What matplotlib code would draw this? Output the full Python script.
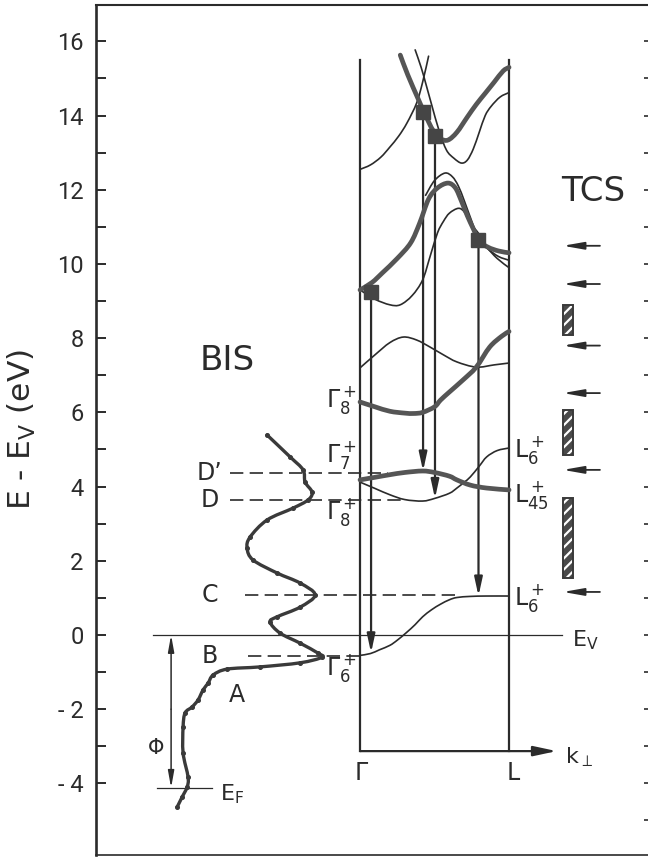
import matplotlib
matplotlib.use("Agg")
import matplotlib.pyplot as plt
from matplotlib import font_manager
from matplotlib.path import Path
from matplotlib.patches import PathPatch
from matplotlib.ticker import FixedLocator, FuncFormatter, NullFormatter

# ---------------------------------------------------------------------------
# Fonts / style
# ---------------------------------------------------------------------------
_installed = {f.name for f in font_manager.fontManager.ttflist}
TICK_FONT = "Liberation Sans Narrow" if "Liberation Sans Narrow" in _installed else "Roboto"

plt.rcParams["font.family"] = ["DejaVu Sans"]
plt.rcParams["mathtext.fontset"] = "dejavusans"
plt.rcParams["mathtext.default"] = "regular"
plt.rcParams["hatch.linewidth"] = 1.6

INK = "#2b2b2b"
THICK = "#555555"

# ---------------------------------------------------------------------------
# BIS spectrum: energy above E_V (eV) and intensity (arb. units)
# ---------------------------------------------------------------------------
bis_energy = [5.39, 4.80, 4.45, 4.12, 3.85, 3.64, 3.42, 3.10, 2.64, 2.34, 2.02,
              1.67, 1.40, 1.08, 0.75, 0.49, 0.35, 0.05, -0.22, -0.49, -0.60,
              -0.75, -0.86, -0.92, -1.08, -1.30, -1.48, -1.75, -1.94, -2.10,
              -2.48, -3.18, -3.83, -4.10, -4.37, -4.64]
bis_counts = [117, 140, 153, 155, 162, 158, 143, 117, 100, 97, 103,
              127, 150, 165, 150, 127, 120, 130, 150, 168, 172,
              150, 110, 77, 63, 58, 53, 48, 42, 35,
              33, 33, 38, 37, 32, 27]

# BIS peak labels and their energies (eV)
peak_labels = ["D\u2019", "D", "C", "B"]
peak_energy = [4.37, 3.64, 1.08, -0.57]

# ---------------------------------------------------------------------------
# Band structure along Gamma-L  (k in units of |Gamma L|, E in eV)
# ---------------------------------------------------------------------------
k_g6 = [0, 0.07, 0.13, 0.2, 0.25, 0.31, 0.37, 0.42, 0.48, 0.54, 0.6, 0.65, 0.74, 0.85, 1.0]
e_g6 = [-0.55, -0.5, -0.40, -0.28, -0.14, 0.06, 0.28, 0.49, 0.68, 0.83, 0.95, 1.01, 1.04, 1.05, 1.05]

k_g7 = [0, 0.1, 0.2, 0.3, 0.42, 0.5, 0.6, 0.65, 0.74, 0.85, 1.0]
e_g7 = [4.18, 4.25, 4.32, 4.38, 4.42, 4.38, 4.28, 4.18, 4.04, 3.96, 3.91]

k_g8 = [0, 0.1, 0.2, 0.3, 0.42, 0.5, 0.6, 0.65, 0.7, 0.74, 0.8, 0.85, 0.92, 1.0]
e_g8 = [4.12, 3.95, 3.78, 3.65, 3.61, 3.68, 3.82, 3.96, 4.12, 4.26, 4.55, 4.8, 4.97, 5.04]

k_g8u = [0, 0.1, 0.2, 0.3, 0.36, 0.42, 0.5, 0.54, 0.6, 0.69, 0.78, 0.87, 0.95, 1.0]
e_g8u = [6.28, 6.15, 6.03, 5.98, 5.97, 6.0, 6.15, 6.33, 6.55, 6.87, 7.22, 7.76, 8.05, 8.18]

k_b5 = [0, 0.1, 0.2, 0.29, 0.38, 0.47, 0.56, 0.65, 0.78, 0.9, 1.0]
e_b5 = [7.2, 7.55, 7.88, 8.03, 7.95, 7.76, 7.55, 7.36, 7.22, 7.28, 7.33]

k_b6 = [0, 0.1, 0.2, 0.27, 0.35, 0.42, 0.47, 0.52, 0.56, 0.6, 0.66, 0.7, 0.74, 0.8, 0.85, 0.92, 1.0]
e_b6 = [9.3, 9.05, 8.9, 8.9, 9.15, 9.57, 10.2, 10.84, 11.15, 11.37, 11.5, 11.4, 11.1, 10.8, 10.46, 10.15, 9.9]

k_b7 = [0, 0.08, 0.15, 0.25, 0.34, 0.4, 0.46, 0.52, 0.59, 0.64, 0.68, 0.72, 0.76, 0.8, 0.86, 0.93, 1.0]
e_b7 = [9.3, 9.5, 9.76, 10.15, 10.57, 11.1, 11.75, 12.05, 12.18, 12.05, 11.7, 11.3, 10.95, 10.62, 10.45, 10.35, 10.3]

k_b7b = [0.44, 0.5, 0.57, 0.62, 0.66, 0.7, 0.75, 0.8, 0.86, 0.93, 1.0]
e_b7b = [11.85, 12.25, 12.45, 12.35, 12.1, 11.7, 11.15, 10.65, 10.4, 10.2, 10.1]

k_t1 = [0, 0.07, 0.14, 0.2, 0.26, 0.315, 0.38, 0.42, 0.46]
e_t1 = [12.55, 12.67, 12.88, 13.15, 13.45, 13.8, 14.34, 14.9, 15.6]

k_v = [0.27, 0.32, 0.39, 0.44, 0.49, 0.54, 0.59, 0.65, 0.72, 0.78, 0.84, 0.9, 0.96, 1.0]
e_v = [15.63, 15.1, 14.45, 14.0, 13.6, 13.38, 13.34, 13.55, 13.96, 14.3, 14.6, 14.9, 15.2, 15.3]

k_u = [0.37, 0.41, 0.44, 0.48, 0.53, 0.58, 0.63, 0.68, 0.72, 0.76, 0.8, 0.84, 0.88, 0.94, 1.0]
e_u = [15.77, 15.3, 14.88, 14.3, 13.6, 13.07, 12.85, 12.72, 12.8, 13.1, 13.55, 14.0, 14.25, 14.5, 14.62]

# direct transitions: k point, initial and final energy (eV)
trans_k = [0.074, 0.423, 0.503, 0.795]
trans_e_start = [9.25, 14.1, 13.45, 10.65]
trans_e_end = [-0.48, 4.42, 3.68, 1.05]

# TCS: structures (arrows) and broad features (hatched bars), eV
tcs_arrow_e = [10.49, 9.46, 7.8, 6.52, 4.45, 1.16]
tcs_band_lo = [8.09, 4.85, 1.54]
tcs_band_hi = [8.9, 6.06, 3.69]

E_FERMI = -4.12
E_BOTTOM = -3.13   # k axis level
E_TOP = 15.5       # top of the Gamma / L lines

# horizontal placement of the BIS spectrum (zero intensity, scale)
BIS_ZERO = -1.409
BIS_SCALE = 1 / 149.0


def smooth_path(xs, ys):
    """Cubic Bezier path through the given points (Catmull-Rom tangents)."""
    pts = list(zip(xs, ys))
    n = len(pts)
    verts, codes = [pts[0]], [Path.MOVETO]
    for i in range(n - 1):
        p0 = pts[i - 1] if i > 0 else pts[i]
        p1, p2 = pts[i], pts[i + 1]
        p3 = pts[i + 2] if i + 2 < n else pts[i + 1]
        c1 = (p1[0] + (p2[0] - p0[0]) / 6, p1[1] + (p2[1] - p0[1]) / 6)
        c2 = (p2[0] - (p3[0] - p1[0]) / 6, p2[1] - (p3[1] - p1[1]) / 6)
        verts += [c1, c2, p2]
        codes += [Path.CURVE4] * 3
    return Path(verts, codes)


# ---------------------------------------------------------------------------
# Figure
# ---------------------------------------------------------------------------
fig = plt.figure(figsize=(6.48, 8.57), dpi=100)
ax = fig.add_axes([96 / 648, 2 / 857, 554 / 648, 850 / 857])
ax.set_xlim(-1.772, 1.946)
ax.set_ylim(-5.93, 16.98)

for side, lw in (("left", 1.9), ("top", 1.5), ("bottom", 1.2), ("right", 1.2)):
    ax.spines[side].set_linewidth(lw)
    ax.spines[side].set_color(INK)

ax.set_xticks([])
ax.yaxis.set_major_locator(FixedLocator(list(range(-4, 17, 2))))
ax.yaxis.set_minor_locator(FixedLocator(list(range(-3, 16, 2))))
ax.yaxis.set_major_formatter(FuncFormatter(
    lambda v, p: f"- {abs(int(v))}" if v < 0 else f"{int(v)}"))
ax.tick_params(axis="y", which="both", direction="in", length=7.5, width=1.4,
               color=INK, left=True, right=False, pad=9)
ax.tick_params(axis="y", which="major", labelsize=17, labelcolor=INK,
               labelfontfamily=TICK_FONT)

# short inward ticks along the right edge, one per eV
axr = ax.twinx()
axr.set_ylim(ax.get_ylim())
axr.yaxis.set_major_locator(FixedLocator(list(range(-5, 17))))
axr.yaxis.set_major_formatter(NullFormatter())
axr.tick_params(axis="y", direction="in", length=4, width=1.2, color=INK)
for s in axr.spines.values():
    s.set_visible(False)

ax.set_ylabel(r"E - E$_V$ (eV)", fontsize=22.5, color=INK)
ax.yaxis.set_label_coords(-0.105, 0.5)


def arrow(x0, y0, x1, y1, lw=1.5, hl=1.1, hw=0.25):
    ax.annotate("", xy=(x1, y1), xytext=(x0, y0),
                arrowprops=dict(arrowstyle=f"-|>,head_length={hl},head_width={hw}",
                                lw=lw, color=INK, shrinkA=0, shrinkB=0))


def curve(xs, ys, color, lw, z):
    ax.add_patch(PathPatch(smooth_path(xs, ys), fill=False, edgecolor=color,
                           lw=lw, capstyle="round", joinstyle="round", zorder=z))


# --- BIS spectrum ---
bis_x = [BIS_ZERO + c * BIS_SCALE for c in bis_counts]
curve(bis_x, bis_energy, "#3a3a3a", 2.4, 3)
ax.plot(bis_x, bis_energy, "o", color="#3a3a3a", ms=2.6, zorder=3)

# --- reference levels ---
ax.plot([-1.389, 1.356], [0, 0], color=INK, lw=0.9)
ax.plot([-1.362, -0.993], [E_FERMI, E_FERMI], color=INK, lw=0.9)
arrow(-1.268, -2.0, -1.268, 0.0, lw=1.1, hl=1.0, hw=0.18)
arrow(-1.268, -2.0, -1.268, E_FERMI, lw=1.1, hl=1.0, hw=0.18)

# dashed lines from the BIS peaks into the band structure
peak_start = [-0.872, -0.872, -0.772, -0.752]
peak_end = [0.188, 0.282, 0.671, 0.02]
for e, x0, x1 in zip(peak_energy, peak_start, peak_end):
    ax.plot([x0, x1], [e, e], color=INK, lw=1.2, ls=(0, (8, 3.8)))

# --- Brillouin zone frame: Gamma and L lines, k axis ---
ax.plot([0, 0], [E_BOTTOM, E_TOP], color=INK, lw=1.6)
ax.plot([1, 1], [E_BOTTOM, E_TOP], color=INK, lw=1.6)
arrow(0, E_BOTTOM, 1.32, E_BOTTOM, lw=1.6, hl=1.4, hw=0.3)

# --- bands ---
thin_bands = [(k_g6, e_g6), (k_g8, e_g8), (k_b5, e_b5), (k_b6, e_b6),
              (k_b7b, e_b7b), (k_t1, e_t1), (k_u, e_u)]
thick_bands = [(k_g7, e_g7), (k_g8u, e_g8u), (k_b7, e_b7), (k_v, e_v)]
for k, e in thin_bands:
    curve(k, e, INK, 1.2, 4)
for k, e in thick_bands:
    curve(k, e, THICK, 3.4, 5)

# --- transitions ---
for k, e0, e1 in zip(trans_k, trans_e_start, trans_e_end):
    arrow(k, e0, k, e1, lw=1.6, hl=1.1, hw=0.24)
ax.plot(trans_k, trans_e_start, "s", color="#454545", ms=9.5, zorder=6)

# --- TCS ---
for e in tcs_arrow_e:
    arrow(1.61, e, 1.362, e, lw=1.3, hl=1.25, hw=0.22)
heights = [hi - lo for lo, hi in zip(tcs_band_lo, tcs_band_hi)]
ax.bar([1.396] * 3, heights, bottom=tcs_band_lo, width=0.067, color="#4a4a4a",
       edgecolor="white", hatch="///", linewidth=0, zorder=3)
ax.bar([1.396] * 3, heights, bottom=tcs_band_lo, width=0.067, fill=False,
       edgecolor="#3a3a3a", linewidth=1.4, zorder=4)

# --- labels ---
txt = dict(color=INK, ha="center", va="center")
ax.text(-0.893, 7.41, "BIS", fontsize=24.5, **txt)
ax.text(1.564, 11.94, "TCS", fontsize=24.5, **txt)
for lab, e in zip(peak_labels, peak_energy):
    ax.text(-1.01, e, lab, fontsize=17, **txt)
ax.text(-0.826, -1.62, "A", fontsize=17, **txt)
ax.text(-1.369, -3.05, "\u03a6", fontsize=15, **txt)
ax.text(-0.94, -4.3, r"E$_F$", fontsize=16, color=INK, ha="left", va="center")
ax.text(1.423, -0.13, r"E$_V$", fontsize=16, color=INK, ha="left", va="center")
ax.text(1.376, -3.3, r"k$_\perp$", fontsize=16, color=INK, ha="left", va="center")
ax.text(0.01, -3.72, r"$\Gamma$", fontsize=17, **txt)
ax.text(1.03, -3.72, "L", fontsize=17, **txt)

gamma_labels = [(r"$\Gamma^+_8$", 6.33), (r"$\Gamma^+_7$", 4.85),
                (r"$\Gamma^+_8$", 3.32), (r"$\Gamma^+_6$", -0.9)]
for lab, e in gamma_labels:
    ax.text(-0.025, e, lab, fontsize=17, color=INK, ha="right", va="center")
l_labels = [(r"L$^+_6$", 4.99), (r"L$^+_{45}$", 3.77), (r"L$^+_6$", 1.0)]
for lab, e in l_labels:
    ax.text(1.035, e, lab, fontsize=17, color=INK, ha="left", va="center")

fig.savefig("out.png", dpi=100)
